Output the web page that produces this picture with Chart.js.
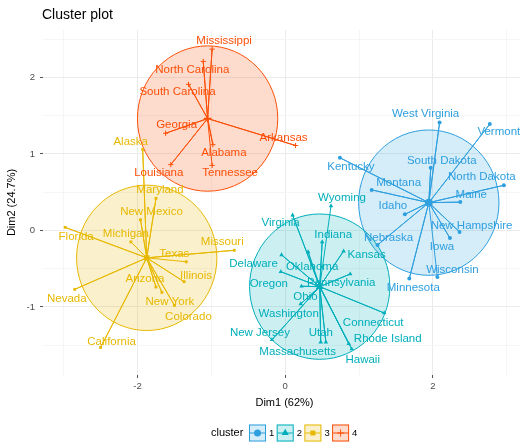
<!DOCTYPE html>
<html>
<head>
<meta charset="utf-8">
<script src="https://cdn.jsdelivr.net/npm/chart.js@4"></script>
<style>
  html, body { margin: 0; padding: 0; background: #fff; overflow: hidden; }
  #wrap { width: 540px; height: 444px; }
</style>
</head>
<body>
<div id="wrap"><canvas id="clusterChart" width="540" height="444"></canvas></div>
<script>
// PCA coordinates of the states, grouped by k-means cluster
const cluster1States = ['Idaho', 'Iowa', 'Kentucky', 'Maine', 'Minnesota', 'Montana', 'Nebraska', 'New Hampshire', 'North Dakota', 'South Dakota', 'Vermont', 'West Virginia', 'Wisconsin'];
const cluster1Dim1 = [1.62, 2.23, 0.74, 2.37, 1.68, 1.17, 1.25, 2.36, 2.96, 1.97, 2.77, 2.09, 2.06];
const cluster1Dim2 = [0.21, -0.10, 0.95, 0.37, -0.63, 0.53, -0.19, -0.02, 0.59, 0.82, 1.39, 1.41, -0.61];

const cluster2States = ['Connecticut', 'Delaware', 'Hawaii', 'Indiana', 'Kansas', 'Massachusetts', 'New Jersey', 'Ohio', 'Oklahoma', 'Oregon', 'Pennsylvania', 'Rhode Island', 'Utah', 'Virginia', 'Washington', 'Wyoming'];
const cluster2Dim1 = [1.34, -0.05, 0.90, 0.50, 0.79, 0.48, -0.18, 0.22, 0.31, -0.06, 0.88, 0.86, 0.55, 0.10, 0.21, 0.62];
const cluster2Dim2 = [-1.08, -0.32, -1.55, -0.15, -0.27, -1.46, -1.43, -0.73, -0.28, -0.54, -0.57, -1.48, -1.46, 0.20, -0.96, 0.32];

const cluster3States = ['Alaska', 'Arizona', 'California', 'Colorado', 'Florida', 'Illinois', 'Maryland', 'Michigan', 'Missouri', 'Nevada', 'New Mexico', 'New York', 'Texas'];
const cluster3Dim1 = [-1.93, -1.75, -2.50, -1.50, -2.98, -1.37, -1.75, -2.09, -0.69, -2.85, -1.96, -1.67, -1.34];
const cluster3Dim2 = [1.06, -0.74, -1.53, -0.98, 0.04, -0.67, 0.42, -0.15, -0.26, -0.77, 0.14, -0.81, -0.41];

const cluster4States = ['Alabama', 'Arkansas', 'Georgia', 'Louisiana', 'Mississippi', 'North Carolina', 'South Carolina', 'Tennessee'];
const cluster4Dim1 = [-0.98, 0.14, -1.62, -1.55, -0.99, -1.11, -1.31, -0.99];
const cluster4Dim2 = [1.12, 1.11, 1.27, 0.86, 2.37, 2.21, 1.91, 0.85];

const clusterNames = ['1', '2', '3', '4'];
const xTicks = [-3, -2, -1, 0, 1, 2, 3];
const yTicks = [-1.5, -1, -0.5, 0, 0.5, 1, 1.5, 2, 2.5];
const ellipseLevel = 0.95;

// styling
const clusterColors = ['#2E9FDF', '#00AFBB', '#E7B800', '#FC4E07'];
const clusterShapes = ['circle', 'triangle', 'rect', 'cross'];
const FONT = '"Liberation Sans", Arial, Helvetica, sans-serif';

// label nudges in pixels (repel placement)
const labelNudge = {
  'Mississippi': [12, -8], 'North Carolina': [-11, 8], 'South Carolina': [-11, 8], 'Georgia': [11, -8],
  'Alabama': [11, 8], 'Louisiana': [-12, 8], 'Tennessee': [18, 7], 'Arkansas': [-12, -8],
  'Alaska': [-12, -8], 'Maryland': [4, -8], 'New Mexico': [11, -8], 'Michigan': [-5, -8],
  'Florida': [11, 9], 'Texas': [-12, -8], 'Missouri': [-12, -8], 'Illinois': [12, -6],
  'Arizona': [-11, -8], 'Nevada': [-8, 10], 'New York': [8, 9], 'Colorado': [14, 11], 'California': [11, -6],
  'Virginia': [-12, 8], 'Wyoming': [11, -8], 'Indiana': [11, -7], 'Kansas': [23, 4],
  'Delaware': [-28, 9], 'Oklahoma': [4, 15], 'Oregon': [-12, 12], 'Pennsylvania': [-9, 9],
  'Ohio': [4, 11], 'Washington': [-12, 10], 'Connecticut': [-11, 10], 'New Jersey': [-12, -7],
  'Utah': [-5, -9], 'Massachusetts': [-23, 10], 'Rhode Island': [39, -5], 'Hawaii': [11, 11],
  'West Virginia': [-14, -9], 'Vermont': [9, 8], 'Kentucky': [11, 9], 'South Dakota': [11, -7],
  'Montana': [27, -7], 'North Dakota': [-22, -8], 'Maine': [11, -7], 'Idaho': [-12, -9],
  'New Hampshire': [12, -6], 'Nebraska': [11, -7], 'Iowa': [-8, 9], 'Wisconsin': [15, -7], 'Minnesota': [4, 9]
};

function alpha(hex, a) {
  const n = parseInt(hex.slice(1), 16);
  return `rgba(${(n >> 16) & 255}, ${(n >> 8) & 255}, ${n & 255}, ${a})`;
}
const mean = arr => arr.reduce((s, v) => s + v, 0) / arr.length;

const clusters = [
  [cluster1States, cluster1Dim1, cluster1Dim2],
  [cluster2States, cluster2Dim1, cluster2Dim2],
  [cluster3States, cluster3Dim1, cluster3Dim2],
  [cluster4States, cluster4Dim1, cluster4Dim2]
].map(([states, d1, d2], i) => ({
  name: clusterNames[i],
  pts: states.map((s, j) => ({ x: d1[j], y: d2[j], label: s })),
  cx: mean(d1),
  cy: mean(d2),
  color: clusterColors[i],
  shape: clusterShapes[i]
}));

const datasets = [];
clusters.forEach(c => {
  // star segments: center -> point -> center -> ...
  datasets.push({
    data: c.pts.flatMap(p => [{ x: c.cx, y: c.cy }, { x: p.x, y: p.y }]),
    showLine: true, borderColor: c.color, borderWidth: 1, pointRadius: 0, fill: false
  });
  datasets.push({
    data: c.pts, pointStyle: c.shape,
    pointRadius: c.shape === 'triangle' ? 2.6 : (c.shape === 'cross' ? 2.6 : 2),
    backgroundColor: c.color, borderColor: c.color, borderWidth: c.shape === 'cross' ? 1 : 0
  });
  datasets.push({
    data: [{ x: c.cx, y: c.cy }], pointStyle: c.shape,
    pointRadius: c.shape === 'triangle' ? 4.5 : 3.8,
    backgroundColor: c.color, borderColor: c.color, borderWidth: c.shape === 'cross' ? 1.5 : 0
  });
});

const ellipsePlugin = {
  id: 'ellipses',
  beforeDatasetsDraw(chart) {
    const { ctx, chartArea, scales: { x, y } } = chart;
    ctx.save();
    ctx.beginPath();
    ctx.rect(chartArea.left, chartArea.top, chartArea.width, chartArea.height);
    ctx.clip();
    clusters.forEach(c => {
      const px = x.getPixelForValue(c.cx), py = y.getPixelForValue(c.cy);
      const rx = Math.abs(x.getPixelForValue(c.cx + ellipseLevel) - px);
      const ry = Math.abs(y.getPixelForValue(c.cy + ellipseLevel) - py);
      ctx.beginPath();
      ctx.ellipse(px, py, rx, ry, 0, 0, Math.PI * 2);
      ctx.fillStyle = alpha(c.color, 0.2);
      ctx.fill();
      ctx.strokeStyle = c.color;
      ctx.lineWidth = 1;
      ctx.stroke();
    });
    ctx.restore();
  },
  afterDatasetsDraw(chart) {
    const { ctx, scales: { x, y } } = chart;
    ctx.save();
    ctx.font = '11.5px ' + FONT;
    ctx.textAlign = 'center';
    ctx.textBaseline = 'middle';
    clusters.forEach(c => {
      ctx.fillStyle = c.color;
      c.pts.forEach(p => {
        const [dx, dy] = labelNudge[p.label] || [0, -8];
        ctx.fillText(p.label, x.getPixelForValue(p.x) + dx, y.getPixelForValue(p.y) + dy);
      });
    });
    ctx.restore();
  },
  afterDraw(chart) {
    const { ctx } = chart;
    ctx.save();
    // plot title
    ctx.fillStyle = '#000';
    ctx.font = '14px ' + FONT;
    ctx.textAlign = 'left';
    ctx.textBaseline = 'middle';
    ctx.fillText('Cluster plot', 42, 15);
    // legend
    const ly = 433, size = 17;
    ctx.font = '11px ' + FONT;
    ctx.fillText('cluster', 211, ly);
    let kx = 249;
    clusters.forEach(c => {
      const top = ly - size / 2;
      ctx.fillStyle = alpha(c.color, 0.2);
      ctx.fillRect(kx, top, size, size);
      ctx.strokeStyle = c.color;
      ctx.lineWidth = 1;
      ctx.strokeRect(kx + 0.5, top + 0.5, size - 1, size - 1);
      ctx.beginPath();
      ctx.moveTo(kx + 1, ly);
      ctx.lineTo(kx + size - 1, ly);
      ctx.stroke();
      ctx.fillStyle = c.color;
      Chart.helpers.drawPoint(ctx, {
        pointStyle: c.shape, rotation: 0,
        radius: c.shape === 'triangle' ? 4.2 : 3.5,
        borderWidth: c.shape === 'cross' ? 1.5 : 0
      }, kx + size / 2, ly);
      ctx.fillStyle = '#000';
      ctx.font = '9.5px ' + FONT;
      ctx.fillText(c.name, kx + size + 3, ly);
      kx += 27.7;
    });
    ctx.restore();
  }
};

const gridColor = major => major ? '#EBEBEB' : '#F5F5F5';

new Chart(document.getElementById('clusterChart'), {
  type: 'scatter',
  data: { datasets },
  plugins: [ellipsePlugin],
  options: {
    responsive: false,
    animation: false,
    layout: { padding: { left: 0, right: 14, top: 30, bottom: 29 } },
    plugins: { legend: { display: false }, tooltip: { enabled: false } },
    scales: {
      x: {
        type: 'linear', min: -3.28, max: 3.26,
        afterBuildTicks: s => { s.ticks = xTicks.map(v => ({ value: v })); },
        afterFit: s => { s.height = 40; },
        border: { display: false },
        grid: {
          color: ctx => gridColor(ctx.tick && ctx.tick.value % 2 === 0),
          lineWidth: 1,
          tickLength: 3,
          tickColor: ctx => (ctx.tick && ctx.tick.value % 2 === 0) ? '#555' : 'rgba(0,0,0,0)'
        },
        ticks: {
          padding: 3, color: '#4D4D4D', font: { size: 9.5, family: FONT },
          maxRotation: 0, autoSkip: false,
          callback: v => (v % 2 === 0 ? String(v) : '')
        },
        title: { display: true, text: 'Dim1 (62%)', color: '#000', font: { size: 11, family: FONT }, padding: { top: 0, bottom: 5 } }
      },
      y: {
        type: 'linear', min: -1.89, max: 2.62,
        afterBuildTicks: s => { s.ticks = yTicks.map(v => ({ value: v })); },
        afterFit: s => { s.width = 43; },
        border: { display: false },
        grid: {
          color: ctx => gridColor(ctx.tick && Number.isInteger(ctx.tick.value)),
          lineWidth: 1,
          tickLength: 3,
          tickColor: ctx => (ctx.tick && Number.isInteger(ctx.tick.value)) ? '#555' : 'rgba(0,0,0,0)'
        },
        ticks: {
          padding: 5, color: '#4D4D4D', font: { size: 9.5, family: FONT }, autoSkip: false,
          callback: v => (Number.isInteger(v) ? String(v) : '')
        },
        title: { display: true, text: 'Dim2 (24.7%)', color: '#000', font: { size: 11, family: FONT }, padding: { top: 5, bottom: 0 } }
      }
    }
  }
});
</script>
</body>
</html>
